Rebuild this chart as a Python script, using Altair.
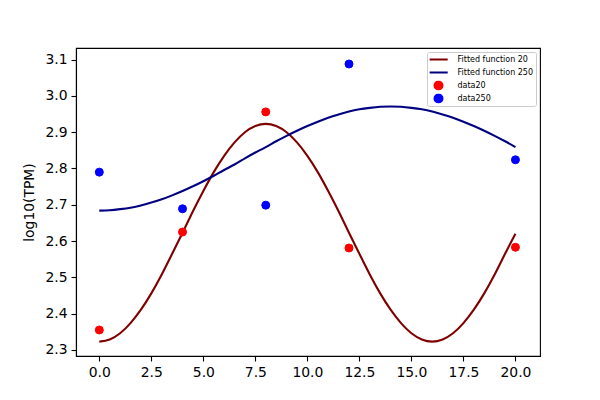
import pandas as pd
import altair as alt

# fitted curves at x = 0, 0.5, ..., 20
x_fit = [0, 0.5, 1, 1.5, 2, 2.5, 3, 3.5, 4, 4.5, 5, 5.5, 6, 6.5, 7, 7.5, 8, 8.5, 9, 9.5, 10,
         10.5, 11, 11.5, 12, 12.5, 13, 13.5, 14, 14.5, 15, 15.5, 16, 16.5, 17, 17.5, 18, 18.5,
         19, 19.5, 20]
fit20 = [2.323, 2.329, 2.346, 2.374, 2.411, 2.456, 2.508, 2.565, 2.623, 2.682, 2.738, 2.790,
         2.835, 2.872, 2.900, 2.917, 2.923, 2.917, 2.900, 2.872, 2.835, 2.790, 2.738, 2.682,
         2.623, 2.565, 2.508, 2.456, 2.411, 2.374, 2.346, 2.329, 2.323, 2.329, 2.346, 2.374,
         2.411, 2.456, 2.508, 2.565, 2.620]
fit250 = [2.684, 2.685, 2.688, 2.692, 2.698, 2.706, 2.715, 2.726, 2.738, 2.751, 2.765, 2.780,
          2.796, 2.811, 2.828, 2.844, 2.859, 2.875, 2.890, 2.904, 2.917, 2.929, 2.940, 2.949,
          2.957, 2.963, 2.967, 2.970, 2.971, 2.970, 2.967, 2.963, 2.957, 2.949, 2.940, 2.929,
          2.917, 2.904, 2.890, 2.875, 2.859]

# measured points
x_data = [0, 4, 8, 12, 20]
data20 = [2.355, 2.625, 2.956, 2.581, 2.583]
data250 = [2.790, 2.689, 2.699, 3.088, 2.824]

series = ["Fitted function 20", "Fitted function 250", "data20", "data250"]
colors = ["#800000", "#000080", "#ff0000", "#0000ff"]
line_sym = "M-2.3,0H2.3"
shapes = [line_sym, line_sym, "circle", "circle"]

x_ticks = [0, 2.5, 5, 7.5, 10, 12.5, 15, 17.5, 20]
y_ticks = [2.3, 2.4, 2.5, 2.6, 2.7, 2.8, 2.9, 3.0, 3.1]

fits = pd.DataFrame({
    "x": x_fit * 2,
    "y": fit20 + fit250,
    "series": [series[0]] * len(x_fit) + [series[1]] * len(x_fit),
})
points = pd.DataFrame({
    "x": x_data * 2,
    "y": data20 + data250,
    "series": [series[2]] * len(x_data) + [series[3]] * len(x_data),
})

legend = alt.Legend(
    title=None, orient="top-right", offset=4, padding=2.5, rowPadding=3,
    strokeColor="#cccccc", fillColor="white", cornerRadius=2,
    labelFont="DejaVu Sans", labelFontSize=8, labelColor="black",
    symbolSize=64, symbolStrokeWidth=2, symbolOffset=4, labelOffset=14,
    clipHeight=10,
)

x = alt.X("x:Q", scale=alt.Scale(domain=[-1.12, 21.18], nice=False, zero=False),
          axis=alt.Axis(values=x_ticks, format=".1f", title=None, labelOverlap=False))
y = alt.Y("y:Q", scale=alt.Scale(domain=[2.2834, 3.132], nice=False, zero=False),
          axis=alt.Axis(values=y_ticks, format=".1f", title="log10(TPM)", titlePadding=8))

stroke = alt.Stroke("series:N", scale=alt.Scale(domain=series, range=colors), legend=legend)

lines = alt.Chart(fits).mark_line(strokeWidth=2.1, interpolate="natural").encode(
    x=x, y=y, stroke=stroke
)

dots = alt.Chart(points).mark_point(filled=True, size=64, strokeWidth=1, opacity=1).encode(
    x=x, y=y, stroke=stroke,
    fill=alt.Fill("series:N", scale=alt.Scale(domain=series, range=colors), legend=legend),
    shape=alt.Shape("series:N", scale=alt.Scale(domain=series, range=shapes), legend=legend),
)

chart = (
    alt.layer(lines, dots)
    .properties(
        width=464, height=308,
        padding={"left": 68, "top": 40, "right": 52, "bottom": 36},
        autosize=alt.AutoSizeParams(type="none"),
        background="white",
    )
    .configure_view(stroke="black", strokeWidth=1.1)
    .configure_axis(
        grid=False, domainColor="black", domainWidth=1.1,
        tickColor="black", tickWidth=1.1, tickSize=5,
        labelColor="black", labelFont="DejaVu Sans", labelFontSize=13.9, labelPadding=4,
        titleColor="black", titleFont="DejaVu Sans", titleFontSize=13.9, titleFontWeight="normal",
    )
)

chart.save("out.html", embed_options={"renderer": "svg", "actions": False})
